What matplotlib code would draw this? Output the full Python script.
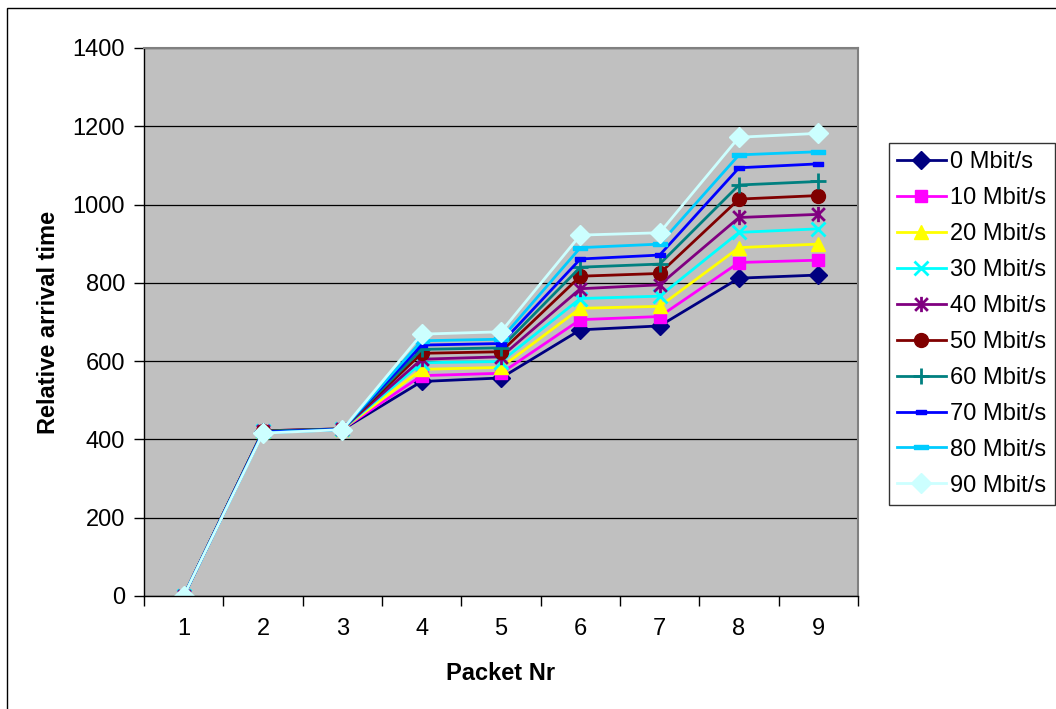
import matplotlib.pyplot as plt
import numpy as np
from matplotlib.path import Path
from matplotlib.patches import Rectangle

plt.rcParams['font.family'] = ['Liberation Sans', 'DejaVu Sans']

packets = [1, 2, 3, 4, 5, 6, 7, 8, 9]
labels = ['0 Mbit/s', '10 Mbit/s', '20 Mbit/s', '30 Mbit/s', '40 Mbit/s',
          '50 Mbit/s', '60 Mbit/s', '70 Mbit/s', '80 Mbit/s', '90 Mbit/s']

s0 = [0, 420, 425, 548, 557, 680, 690, 812, 820]
s10 = [0, 421, 426, 563, 569, 706, 714, 852, 858]
s20 = [0, 421, 426, 579, 584, 735, 740, 890, 899]
s30 = [0, 421, 426, 596, 599, 760, 766, 929, 938]
s40 = [0, 422, 427, 605, 611, 785, 795, 967, 975]
s50 = [0, 422, 427, 620, 624, 817, 824, 1014, 1023]
s60 = [0, 421, 427, 630, 634, 840, 848, 1050, 1059]
s70 = [0, 419, 426, 641, 645, 861, 871, 1094, 1104]
s80 = [0, 417, 425, 652, 656, 890, 899, 1127, 1135]
s90 = [0, 416, 425, 669, 675, 922, 928, 1172, 1182]
series = [s0, s10, s20, s30, s40, s50, s60, s70, s80, s90]

colors = ['#000080', '#FF00FF', '#FFFF00', '#00FFFF', '#800080',
          '#800000', '#008080', '#0000FF', '#00CCFF', '#CCFFFF']

# excel style star: an x with a vertical bar
star = Path([(-1, -1), (1, 1), (-1, 1), (1, -1), (0, -1.2), (0, 1.2)],
            [Path.MOVETO, Path.LINETO, Path.MOVETO, Path.LINETO, Path.MOVETO, Path.LINETO])
small_bar = Path([(-1, -0.45), (1, -0.45), (1, 0.45), (-1, 0.45), (-1, -0.45)],
                 [Path.MOVETO, Path.LINETO, Path.LINETO, Path.LINETO, Path.CLOSEPOLY])
long_bar = Path([(-1, -0.35), (1, -0.35), (1, 0.35), (-1, 0.35), (-1, -0.35)],
                [Path.MOVETO, Path.LINETO, Path.LINETO, Path.LINETO, Path.CLOSEPOLY])

markers = ['D', 's', '^', 'x', star, 'o', '+', small_bar, long_bar, 'D']
msizes = [9.5, 9, 10, 10, 11, 10, 12, 6.5, 9.5, 10]
mew = [1, 1, 1, 2, 2, 1, 2, 1, 1, 1]
fs = 17

fig = plt.figure(figsize=(10.56, 7.09), dpi=100)
ax = fig.add_axes([144 / 1056, 1 - 596 / 709, 714 / 1056, 548 / 709])
ax.set_facecolor('#C0C0C0')

for i in range(len(series)):
    ax.plot(packets, series[i], color=colors[i], lw=2, marker=markers[i],
            markersize=msizes[i], markerfacecolor=colors[i], markeredgecolor=colors[i],
            markeredgewidth=mew[i], label=labels[i])

ax.set_xlim(0.5, 9.5)
ax.set_ylim(0, 1400)
ax.set_yticks(np.arange(0, 1401, 200))
ax.set_xticks(np.arange(0.5, 9.6, 1))
ax.set_xticklabels([])
ax.set_xticks(packets, minor=True)
ax.set_xticklabels([str(p) for p in packets], minor=True)
ax.tick_params(axis='x', which='minor', length=0, pad=16, labelsize=fs)
ax.tick_params(axis='x', which='major', length=7, width=1, direction='out')
ax.tick_params(axis='y', length=7, width=1, direction='out', pad=6.5, labelsize=fs)
ax.yaxis.grid(True, color='black', lw=0.9)
ax.set_axisbelow(True)

for s in ['top', 'right']:
    ax.spines[s].set_color('#808080')
    ax.spines[s].set_linewidth(1.5)
for s in ['left', 'bottom']:
    ax.spines[s].set_color('black')
    ax.spines[s].set_linewidth(1)

ax.set_xlabel('Packet Nr', fontsize=fs, fontweight='bold')
ax.xaxis.set_label_coords(0.5, -0.121)
ax.set_ylabel('Relative arrival time', fontsize=fs, fontweight='bold')
ax.yaxis.set_label_coords(-0.118, 0.5)

leg = fig.legend(loc='upper left', bbox_to_anchor=(889 / 1056, 1 - 143 / 709),
                 fontsize=fs, frameon=True, fancybox=False, handlelength=2.05,
                 handletextpad=0.2, labelspacing=0.59, borderpad=0.35, borderaxespad=0)
leg.get_frame().set_edgecolor('black')
leg.get_frame().set_linewidth(1)

fig.add_artist(Rectangle((7 / 1056, -0.1), 1.2, 1 - 8 / 709 + 0.1, transform=fig.transFigure,
                         fill=False, ec='black', lw=1))

plt.savefig('out.png', dpi=100)
